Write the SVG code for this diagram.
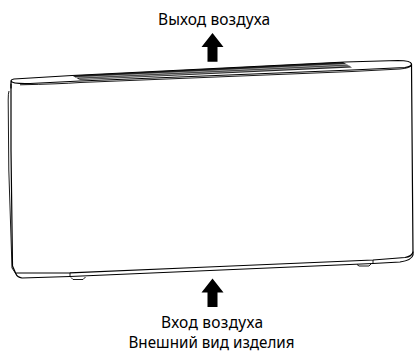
<svg xmlns="http://www.w3.org/2000/svg" width="416" height="351" viewBox="0 0 416 351">
<style>
.l{fill:none;stroke:#000;stroke-width:1.2;stroke-linecap:round;stroke-linejoin:round}
.t{fill:none;stroke:#000;stroke-width:.9}
.a{fill:#000}
text{font-family:"Noto Sans","Open Sans",sans-serif;font-size:15.5px;text-anchor:middle;fill:#000}
</style>
<rect width="416" height="351" fill="#fff"/>
<g id="unit">
<path d="M72 75.500L343 62L352 67.500L80 80Z" fill="#222"/>
<path d="M76 77.500L347 64.300M79 79L350 65.800" stroke="#bbb" stroke-width=".8" fill="none"/>
<path class="l" d="M11 88V81Q11 79.500 14 79L72 75.500L345 62L398 60.500Q411 60.500 411.500 64Q412 66.500 405 67.500L352 70L80 81L30 83.500Q12 84 11 81"/>
<path class="t" d="M20 84.800Q60 84 80 82.500L352 71.500L400 69Q411 68 411.500 65"/>
<path class="l" d="M11 84V150L12.500 266L16 274Q17 277 22 278L70 276.500L373 263.500L400 262Q412 260 413 255L411.500 64"/>
<path class="t" d="M9 91Q8.200 93 8.200 100L8.800 170L12 268L16 274"/>
<path class="l" d="M16.500 273L70 272.800L208 267L373 260L405 257.500Q412 256.500 413 252"/>
<path class="t" d="M70 272.800V277M373 260V264"/>
<path class="t" d="M71 277.500L73 279.500H83L85.500 277M357 264.500L359 266H369L371 264"/>
</g>
<g id="arrows">
<path id="arrow-out" class="a" d="M212.500 33L223.500 47H217.500V61.700H207.500V47H201.500Z"/>
<path id="arrow-in" class="a" d="M212.500 278.500L223.500 292.500H217.500V307H207.500V292.500H201.500Z"/>
</g>
<g id="labels">
<text x="214" y="24.500" textLength="112">Выход воздуха</text>
<text x="212" y="327.500" textLength="102">Вход воздуха</text>
<text x="211.500" y="347.500" textLength="166" lengthAdjust="spacingAndGlyphs">Внешний вид изделия</text>
</g>
</svg>
